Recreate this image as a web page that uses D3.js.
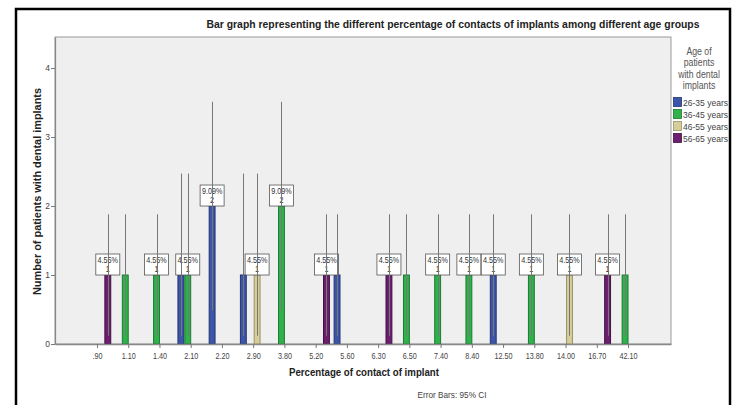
<!DOCTYPE html>
<html>
<head>
<meta charset="utf-8">
<script src="https://cdn.jsdelivr.net/npm/d3@7"></script>
<style>
  html, body { margin: 0; padding: 0; background: #fff; }
  svg { display: block; }
  text { font-family: "Liberation Sans", Arial, sans-serif; }
</style>
</head>
<body>
<svg id="chart" width="738" height="405"></svg>
<script>
// Percentage-of-contact categories on the x axis
const categories = [".90", "1.10", "1.40", "2.10", "2.20", "2.90", "3.80", "5.20", "5.60",
  "6.30", "6.50", "7.40", "8.40", "12.50", "13.80", "14.00", "16.70", "42.10"];

// Age groups (clusters within each category)
const ageGroups = ["26-35 years", "36-45 years", "46-55 years", "56-65 years"];
const groupFill   = ["#3c55a6", "#2fb24b", "#d5cd9a", "#6d1f6f"];
const groupStroke = ["#22347a", "#1c7a31", "#9a9266", "#420f45"];

// One entry per drawn bar
const barCategory = [".90", "1.10", "1.40", "2.10", "2.10", "2.20", "2.90", "2.90", "3.80",
  "5.20", "5.60", "6.30", "6.50", "7.40", "8.40", "12.50", "13.80", "14.00", "16.70", "42.10"];
const barGroup = ["56-65 years", "36-45 years", "36-45 years", "26-35 years", "36-45 years",
  "26-35 years", "26-35 years", "46-55 years", "36-45 years", "56-65 years", "26-35 years",
  "56-65 years", "36-45 years", "36-45 years", "36-45 years", "26-35 years", "36-45 years",
  "46-55 years", "56-65 years", "36-45 years"];
const barCount = [1, 1, 1, 1, 1, 2, 1, 1, 2, 1, 1, 1, 1, 1, 1, 1, 1, 1, 1, 1];
const barLabelled = [true, false, true, false, true, true, false, true, true, true, false,
  true, false, true, true, true, true, true, true, false];
// 95% confidence interval ends
const ciLow = [0.12, 0.12, 0.12, 0.12, 0.12, 0.49, 0.12, 0.12, 0.49, 0.12, 0.12,
  0.12, 0.12, 0.12, 0.12, 0.12, 0.12, 0.12, 0.12, 0.12];
const ciHigh = [1.88, 1.88, 1.88, 2.47, 2.47, 3.51, 2.47, 2.47, 3.51, 1.88, 1.88,
  1.88, 1.88, 1.88, 1.88, 1.88, 1.88, 1.88, 1.88, 1.88];
const totalPatients = 22;

const yTicks = [0, 1, 2, 3, 4];
const legendTitle = ["Age of", "patients", "with dental", "implants"];

const bars = barCategory.map((c, i) => ({
  category: c, group: barGroup[i], count: barCount[i], labelled: barLabelled[i],
  lo: ciLow[i], hi: ciHigh[i]
}));

const svg = d3.select("#chart");
const plot = { left: 55, right: 671, top: 37, bottom: 344 };

// Outer frame
svg.append("rect")
  .attr("x", 16).attr("y", 9).attr("width", 714).attr("height", 410)
  .attr("fill", "#fff").attr("stroke", "#000").attr("stroke-width", 2.5);

// Plot background
svg.append("rect")
  .attr("x", plot.left).attr("y", plot.top)
  .attr("width", plot.right - plot.left).attr("height", plot.bottom - plot.top)
  .attr("fill", "#efefef").attr("stroke", "#9a9a9a").attr("stroke-width", 1);

const x0 = d3.scaleBand().domain(categories).range([plot.left, plot.right])
  .paddingInner(0).paddingOuter(0.86);
const x1 = d3.scaleBand().domain(ageGroups).range([0, x0.bandwidth()])
  .paddingInner(0).paddingOuter(0.27);
const y = d3.scaleLinear().domain([0, 4.45]).range([plot.bottom, plot.top]);
const color = d3.scaleOrdinal().domain(ageGroups).range(groupFill);
const stroke = d3.scaleOrdinal().domain(ageGroups).range(groupStroke);

const barX = d => x0(d.category) + x1(d.group);
const barMid = d => barX(d) + x1.bandwidth() / 2;

// Bars
svg.append("g").selectAll("rect").data(bars).join("rect")
  .attr("x", d => barX(d) + 0.5)
  .attr("y", d => y(d.count))
  .attr("width", x1.bandwidth() - 1)
  .attr("height", d => y(0) - y(d.count))
  .attr("fill", d => color(d.group))
  .attr("stroke", d => stroke(d.group))
  .attr("stroke-width", 1);

// Value boxes: percentage of all patients and count
const boxW = 24, boxH = 21;
const lab = svg.append("g").selectAll("g").data(bars.filter(d => d.labelled)).join("g")
  .attr("transform", d => `translate(${barMid(d)},${y(d.count) - boxH})`);
lab.append("rect")
  .attr("x", -boxW / 2).attr("y", 0).attr("width", boxW).attr("height", boxH)
  .attr("fill", "#fff").attr("stroke", "#555").attr("stroke-width", 0.8);
lab.append("text")
  .attr("transform", "translate(0,9) scale(0.85,1)")
  .attr("text-anchor", "middle").attr("font-size", 8.5).attr("fill", "#333")
  .text(d => (d.count / totalPatients * 100).toFixed(2) + "%");
lab.append("text")
  .attr("transform", "translate(0,17.5) scale(0.85,1)")
  .attr("text-anchor", "middle").attr("font-size", 8.5).attr("fill", "#333")
  .text(d => d.count);

// Error bars (95% CI)
svg.append("g").selectAll("line").data(bars).join("line")
  .attr("x1", d => Math.round(barMid(d)) + 0.5).attr("x2", d => Math.round(barMid(d)) + 0.5)
  .attr("y1", d => y(d.lo)).attr("y2", d => y(d.hi))
  .attr("stroke", "#777").attr("stroke-width", 1);

// X axis
const xAxis = svg.append("g")
  .attr("transform", `translate(0,${plot.bottom})`)
  .call(d3.axisBottom(x0).tickSize(4).tickSizeOuter(0));
xAxis.select(".domain").attr("stroke", "#888").attr("stroke-width", 1.5);
xAxis.selectAll(".tick line").attr("stroke", "#777");
xAxis.selectAll(".tick text")
  .attr("transform", "scale(0.85,1)")
  .attr("font-size", 8.5).attr("fill", "#444").attr("dy", "0.95em");

// Y axis
const yAxis = svg.append("g")
  .attr("transform", `translate(${plot.left},0)`)
  .call(d3.axisLeft(y).tickValues(yTicks).tickFormat(d3.format("d")).tickSize(4).tickSizeOuter(0));
yAxis.select(".domain").attr("stroke", "#888").attr("stroke-width", 1.2);
yAxis.selectAll(".tick line").attr("stroke", "#777");
yAxis.selectAll(".tick text")
  .attr("font-size", 8.5).attr("fill", "#444").attr("x", -5);

// Titles
svg.append("text")
  .attr("x", 453).attr("y", 28).attr("text-anchor", "middle")
  .attr("font-size", 11).attr("font-weight", "bold").attr("fill", "#222")
  .attr("textLength", 493).attr("lengthAdjust", "spacingAndGlyphs")
  .text("Bar graph representing the different percentage of contacts of implants among different age groups");

svg.append("text")
  .attr("x", 364).attr("y", 376).attr("text-anchor", "middle")
  .attr("font-size", 11).attr("font-weight", "bold").attr("fill", "#222")
  .attr("textLength", 150).attr("lengthAdjust", "spacingAndGlyphs")
  .text("Percentage of contact of implant");

svg.append("text")
  .attr("transform", "translate(41,191.5) rotate(-90)")
  .attr("text-anchor", "middle")
  .attr("font-size", 11).attr("font-weight", "bold").attr("fill", "#222")
  .attr("textLength", 207).attr("lengthAdjust", "spacingAndGlyphs")
  .text("Number of patients with dental implants");

svg.append("text")
  .attr("x", 452).attr("y", 398).attr("text-anchor", "middle")
  .attr("font-size", 9.5).attr("fill", "#444")
  .attr("textLength", 69).attr("lengthAdjust", "spacingAndGlyphs")
  .text("Error Bars: 95% CI");

// Legend
const legend = svg.append("g");
legend.selectAll("text.lt").data(legendTitle).join("text")
  .attr("class", "lt")
  .attr("transform", (d, i) => `translate(699,${55 + i * 11.3}) scale(0.76,1)`)
  .attr("text-anchor", "middle").attr("font-size", 11.5).attr("fill", "#555")
  .text(d => d);
const item = legend.selectAll("g.item").data(ageGroups).join("g")
  .attr("class", "item")
  .attr("transform", (d, i) => `translate(673,${97 + i * 12})`);
item.append("rect")
  .attr("x", 0.5).attr("y", 0.5).attr("width", 8).attr("height", 9)
  .attr("fill", d => color(d)).attr("stroke", d => stroke(d)).attr("stroke-width", 0.8);
item.append("text")
  .attr("x", 10).attr("y", 8.5).attr("font-size", 9.5).attr("fill", "#444")
  .attr("textLength", 45).attr("lengthAdjust", "spacingAndGlyphs")
  .text(d => d);
</script>
</body>
</html>
